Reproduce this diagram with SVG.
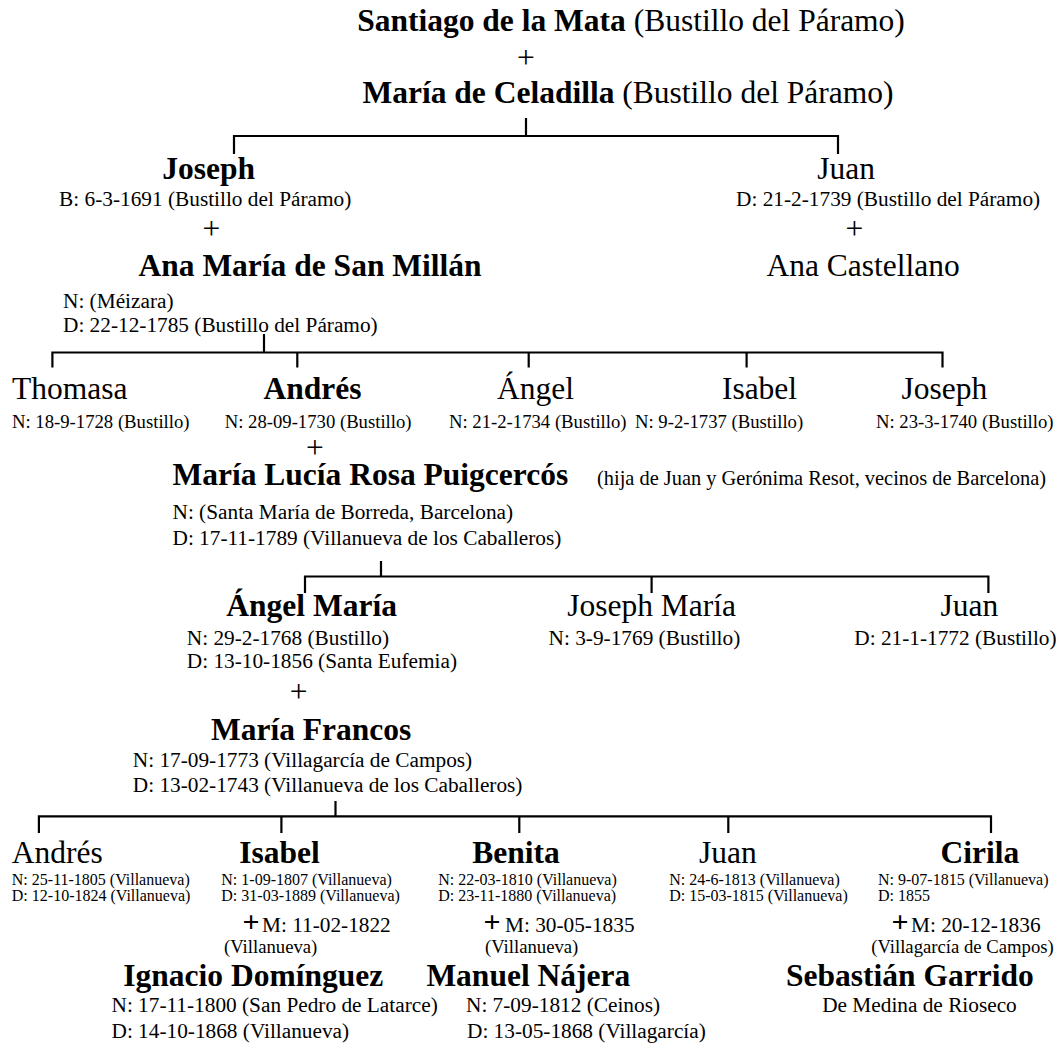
<svg xmlns="http://www.w3.org/2000/svg" width="1059" height="1050" viewBox="0 0 1059 1050">
<style>
text{font-family:"Liberation Serif","Times New Roman",serif;fill:#000}
.nb{font-size:31.5px;font-weight:bold}
.nr{font-size:31.5px}
.d{font-size:21.3px}
.s{font-size:18.7px}
.xs{font-size:16px}
.p{font-size:31.5px;text-anchor:middle}
.pm{font-size:30px;font-weight:bold;text-anchor:middle}
.c{text-anchor:middle}
.ln{stroke:#000;stroke-width:2.2;fill:none;stroke-linecap:square}
</style>
<rect width="1059" height="1050" fill="#fff"/>
<g id="connectors">
<path class="ln" d="M526 119V136M234 153V136H838V153"/>
<path class="ln" d="M264 335V352.5M52.4 366.5V352.5H942.5V366.5M297.3 352.5V366.5M528.7 352.5V366.5M746.6 352.5V366.5"/>
<path class="ln" d="M381 562V576.5M305 592V576.5H988.4V592M651.6 576.5V592"/>
<path class="ln" d="M335.5 802V816.4M38.9 832V816.4H991V832M281.4 816.4V832M519.3 816.4V832M728.3 816.4V832"/>
</g>
<g id="santiago"><text x="631" y="31" class="c nr"><tspan font-weight="bold">Santiago de la Mata</tspan> (Bustillo del Páramo)</text></g>
<g id="plus0"><text x="526" y="68" class="p">+</text></g>
<g id="maria-celadilla"><text x="628" y="103" class="c nr"><tspan font-weight="bold">María de Celadilla</tspan> (Bustillo del Páramo)</text></g>
<g id="joseph1">
<text x="162.2" y="178.7" class="nb">Joseph</text>
<text x="59.1" y="205.7" class="d">B: 6-3-1691 (Bustillo del Páramo)</text>
<text x="211.3" y="238.7" class="p">+</text>
</g>
<g id="ana-maria">
<text x="138.5" y="275.7" class="nb">Ana María de San Millán</text>
<text x="63" y="307.5" class="d">N: (Méizara)</text>
<text x="63" y="331.5" class="d">D: 22-12-1785 (Bustillo del Páramo)</text>
</g>
<g id="juan1">
<text x="817.2" y="178.7" class="nr">Juan</text>
<text x="736.1" y="205.7" class="d">D: 21-2-1739 (Bustillo del Páramo)</text>
<text x="854.3" y="238.7" class="p">+</text>
<text x="766.5" y="275.7" class="nr">Ana Castellano</text>
</g>
<g id="thomasa">
<text x="12" y="399" class="nr">Thomasa</text>
<text x="12" y="428" class="s">N: 18-9-1728 (Bustillo)</text>
</g>
<g id="andres1">
<text x="263.5" y="399" class="nb">Andrés</text>
<text x="224.7" y="428" class="s">N: 28-09-1730 (Bustillo)</text>
<text x="315" y="457.5" class="p">+</text>
</g>
<g id="angel1">
<text x="497" y="399" class="nr">Ángel</text>
<text x="449" y="428" class="s">N: 21-2-1734 (Bustillo)</text>
</g>
<g id="isabel1">
<text x="721.9" y="399" class="nr">Isabel</text>
<text x="635" y="428" class="s">N: 9-2-1737 (Bustillo)</text>
</g>
<g id="joseph2">
<text x="901.6" y="399" class="nr">Joseph</text>
<text x="876" y="428" class="s">N: 23-3-1740 (Bustillo)</text>
</g>
<g id="maria-lucia">
<text x="172.5" y="485" class="nb">María Lucía Rosa Puigcercós</text>
<text x="597" y="485" font-size="20.4px">(hija de Juan y Gerónima Resot, vecinos de Barcelona)</text>
<text x="172.5" y="519" class="d">N: (Santa María de Borreda, Barcelona)</text>
<text x="172.5" y="544.5" class="d">D: 17-11-1789 (Villanueva de los Caballeros)</text>
</g>
<g id="angel-maria">
<text x="226.3" y="616" class="nb">Ángel María</text>
<text x="186.8" y="644.5" class="d">N: 29-2-1768 (Bustillo)</text>
<text x="186.8" y="668.3" class="d">D: 13-10-1856 (Santa Eufemia)</text>
<text x="298.7" y="702" class="p">+</text>
</g>
<g id="joseph-maria">
<text x="567.2" y="616" class="nr">Joseph María</text>
<text x="548.6" y="644.5" class="d">N: 3-9-1769 (Bustillo)</text>
</g>
<g id="juan2">
<text x="940.5" y="616" class="nr">Juan</text>
<text x="854.3" y="644.5" class="d">D: 21-1-1772 (Bustillo)</text>
</g>
<g id="maria-francos">
<text x="211" y="740" class="nb">María Francos</text>
<text x="132.8" y="767" class="d">N: 17-09-1773 (Villagarcía de Campos)</text>
<text x="132.8" y="792" class="d">D: 13-02-1743 (Villanueva de los Caballeros)</text>
</g>
<g id="andres2">
<text x="11.8" y="862.6" class="nr">Andrés</text>
<text x="11.8" y="884.6" class="xs">N: 25-11-1805 (Villanueva)</text>
<text x="11.8" y="900.5" class="xs">D: 12-10-1824 (Villanueva)</text>
</g>
<g id="isabel2">
<text x="239.2" y="862.6" class="nb">Isabel</text>
<text x="221.3" y="884.6" class="xs">N: 1-09-1807 (Villanueva)</text>
<text x="221.3" y="900.5" class="xs">D: 31-03-1889 (Villanueva)</text>
<text x="251" y="932" class="pm">+</text>
<text x="262" y="932" class="d">M: 11-02-1822</text>
<text x="224" y="952.5" class="s">(Villanueva)</text>
</g>
<g id="ignacio">
<text x="123.3" y="985.5" class="nb">Ignacio Domínguez</text>
<text x="111.5" y="1012" class="d">N: 17-11-1800 (San Pedro de Latarce)</text>
<text x="111.5" y="1037.5" class="d">D: 14-10-1868 (Villanueva)</text>
</g>
<g id="benita">
<text x="472.3" y="862.6" class="nb">Benita</text>
<text x="438.2" y="884.6" class="xs">N: 22-03-1810 (Villanueva)</text>
<text x="438.2" y="900.5" class="xs">D: 23-11-1880 (Villanueva)</text>
<text x="492" y="932" class="pm">+</text>
<text x="505" y="932" class="d">M: 30-05-1835</text>
<text x="485" y="952.5" class="s">(Villanueva)</text>
</g>
<g id="manuel">
<text x="426.4" y="985.5" class="nb">Manuel Nájera</text>
<text x="466" y="1012" class="d">N: 7-09-1812 (Ceinos)</text>
<text x="467" y="1037.5" class="d">D: 13-05-1868 (Villagarcía)</text>
</g>
<g id="juan3">
<text x="698.9" y="862.6" class="nr">Juan</text>
<text x="669.2" y="884.6" class="xs">N: 24-6-1813 (Villanueva)</text>
<text x="669.2" y="900.5" class="xs">D: 15-03-1815 (Villanueva)</text>
</g>
<g id="cirila">
<text x="940.5" y="862.6" class="nb">Cirila</text>
<text x="878" y="884.6" class="xs">N: 9-07-1815 (Villanueva)</text>
<text x="878" y="900.5" class="xs">D: 1855</text>
<text x="900" y="932" class="pm">+</text>
<text x="911" y="932" class="d">M: 20-12-1836</text>
<text x="871.2" y="952.5" class="s">(Villagarcía de Campos)</text>
</g>
<g id="sebastian">
<text x="786" y="985.5" class="nb" font-size="31px">Sebastián Garrido</text>
<text x="822.2" y="1012" class="d">De Medina de Rioseco</text>
</g>
</svg>
